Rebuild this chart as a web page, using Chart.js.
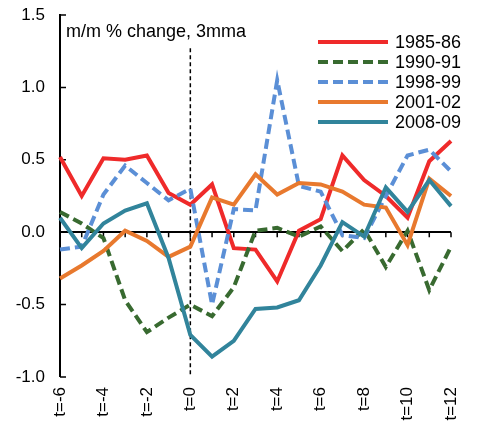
<!DOCTYPE html>
<html>
<head>
<meta charset="utf-8">
<script src="https://cdn.jsdelivr.net/npm/chart.js@4.4.1/dist/chart.umd.min.js"></script>
<style>
  html, body { margin: 0; padding: 0; background: #ffffff; }
  #wrap { width: 480px; height: 425px; position: relative; }
</style>
</head>
<body>
<div id="wrap"><canvas id="c" width="480" height="425"></canvas></div>
<script>
// ---- data ----
const categories = ["t=-6","t=-5","t=-4","t=-3","t=-2","t=-1","t=0","t=1","t=2","t=3","t=4","t=5","t=6","t=7","t=8","t=9","t=10","t=11","t=12"];
const tickLabels = ["t=-6","","t=-4","","t=-2","","t=0","","t=2","","t=4","","t=6","","t=8","","t=10","","t=12"];
const seriesNames = ["1985-86","1990-91","1998-99","2001-02","2008-09"];
const s1985 = [0.52,0.25,0.51,0.50,0.53,0.27,0.19,0.33,-0.11,-0.12,-0.34,0.01,0.09,0.53,0.36,0.25,0.10,0.49,0.63];
const s1990 = [0.14,0.06,-0.04,-0.47,-0.69,-0.59,-0.50,-0.58,-0.38,0.01,0.03,-0.03,0.04,-0.13,0.02,-0.24,0.01,-0.40,-0.10];
const s1998 = [-0.12,-0.10,0.26,0.46,0.34,0.22,0.30,-0.50,0.16,0.15,1.05,0.32,0.28,-0.02,-0.04,0.25,0.53,0.57,0.42];
const s2001 = [-0.32,-0.23,-0.13,0.01,-0.06,-0.17,-0.10,0.24,0.19,0.40,0.26,0.34,0.33,0.28,0.19,0.17,-0.09,0.37,0.25];
const s2008 = [0.10,-0.11,0.06,0.15,0.20,-0.18,-0.71,-0.86,-0.75,-0.53,-0.52,-0.47,-0.23,0.07,-0.03,0.31,0.14,0.36,0.18];
const yMin = -1.0, yMax = 1.5, yStep = 0.5;
const eventCategory = "t=0";
const eventLineTop = 1.27;
const titleText = "m/m % change, 3mma";

const FONT = "'Liberation Sans', Arial, sans-serif";
const colors = ["#EF2A2A", "#386A30", "#5B8FD6", "#E8792E", "#31849B"];
const dashes = [[], [10,5], [10,5], [], []];
const allSeries = [s1985, s1990, s1998, s2001, s2008];

const datasets = allSeries.map((d, i) => ({
  label: seriesNames[i],
  data: d,
  borderColor: colors[i],
  backgroundColor: colors[i],
  borderWidth: 4,
  borderDash: dashes[i],
  borderCapStyle: 'butt',
  borderJoinStyle: 'miter',
  pointRadius: 0,
  pointHoverRadius: 0,
  tension: 0,
  fill: false,
  clip: false,
  order: allSeries.length - i
}));

const decorPlugin = {
  id: 'decor',
  beforeDatasetsDraw(chart) {
    const ctx = chart.ctx, x = chart.scales.x, y = chart.scales.y, ca = chart.chartArea;
    const px = x.getPixelForValue(categories.indexOf(eventCategory));
    ctx.save();
    ctx.strokeStyle = '#000';
    ctx.lineWidth = 1.5;
    ctx.setLineDash([4,3]);
    ctx.beginPath();
    ctx.moveTo(px, y.getPixelForValue(eventLineTop));
    ctx.lineTo(px, ca.bottom);
    ctx.stroke();
    ctx.setLineDash([]);
    const zy = y.getPixelForValue(0);
    ctx.lineWidth = 1.5;
    ctx.beginPath();
    for (let i = 0; i < categories.length; i++) {
      const tx = x.getPixelForValue(i);
      ctx.moveTo(tx, zy);
      ctx.lineTo(tx, zy + 5);
    }
    ctx.stroke();
    ctx.beginPath();
    y.ticks.forEach(t => {
      const ty = y.getPixelForValue(t.value);
      ctx.moveTo(ca.left, ty);
      ctx.lineTo(ca.left + 6, ty);
    });
    ctx.stroke();
    ctx.restore();
  },
  afterDraw(chart) {
    const ctx = chart.ctx, ca = chart.chartArea;
    ctx.save();
    ctx.fillStyle = '#000';
    ctx.font = "18px " + FONT;
    ctx.textBaseline = 'alphabetic';
    ctx.textAlign = 'left';
    ctx.fillText(titleText, ca.left + 6, ca.top + 22);
    const x0 = ca.right - 133, x1 = ca.right - 63, tx = ca.right - 56;
    chart.data.datasets.forEach((ds, i) => {
      const ry = ca.top + 27 + i * 20;
      ctx.strokeStyle = ds.borderColor;
      ctx.lineWidth = ds.borderWidth;
      ctx.setLineDash(ds.borderDash || []);
      ctx.lineCap = 'butt';
      ctx.beginPath();
      ctx.moveTo(x0, ry);
      ctx.lineTo(x1, ry);
      ctx.stroke();
      ctx.setLineDash([]);
      ctx.fillStyle = '#000';
      ctx.font = "18px " + FONT;
      ctx.textBaseline = 'middle';
      ctx.fillText(ds.label, tx, ry + 1);
    });
    ctx.restore();
  }
};

new Chart(document.getElementById('c'), {
  type: 'line',
  data: { labels: categories, datasets },
  options: {
    responsive: false,
    animation: false,
    devicePixelRatio: 1,
    layout: { padding: { left: 0, top: 15, right: 29, bottom: 0 } },
    plugins: { legend: { display: false }, tooltip: { enabled: false }, title: { display: false } },
    scales: {
      x: {
        type: 'category',
        offset: false,
        grid: { display: false, drawTicks: false },
        border: { display: false },
        ticks: {
          autoSkip: false,
          minRotation: 90,
          maxRotation: 90,
          padding: 10,
          color: '#000',
          font: { family: FONT, size: 17 },
          callback: (v, i) => tickLabels[i]
        },
        afterFit: (s) => { s.height = 48; s.paddingLeft = 0; s.paddingRight = 0; }
      },
      y: {
        min: yMin,
        max: yMax,
        ticks: {
          stepSize: yStep,
          padding: 15,
          color: '#000',
          font: { family: FONT, size: 17 },
          callback: (v) => Number(v).toFixed(1)
        },
        grid: {
          drawTicks: false,
          color: (c) => (c.tick && Math.abs(c.tick.value) < 1e-9) ? '#000' : 'rgba(0,0,0,0)',
          lineWidth: (c) => (c.tick && Math.abs(c.tick.value) < 1e-9) ? 2 : 0
        },
        border: { display: true, color: '#000', width: 2 },
        afterFit: (s) => { s.width = 60; s.paddingTop = 0; s.paddingBottom = 0; }
      }
    }
  },
  plugins: [decorPlugin]
});
</script>
</body>
</html>
